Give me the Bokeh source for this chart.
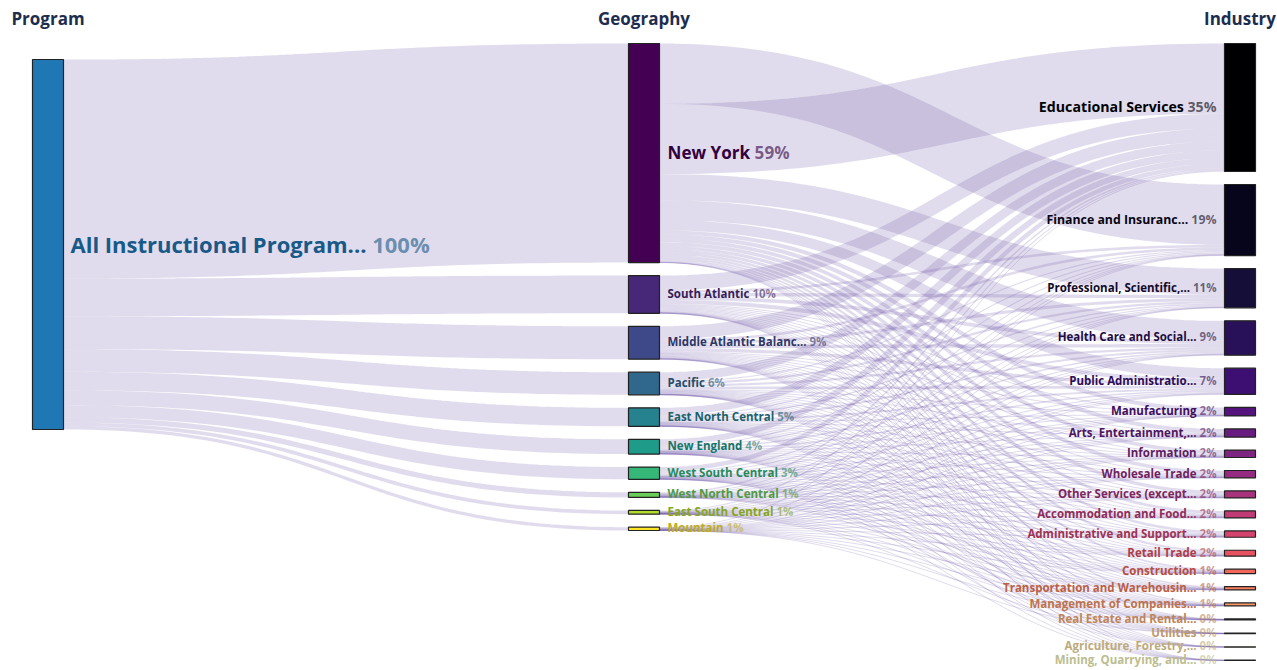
import numpy as np
from bokeh.plotting import figure
from bokeh.models import Range1d, ColumnDataSource, CustomJSTransform
from bokeh.transform import transform
from bokeh.core.properties import value
from bokeh.palettes import Viridis10, magma
from bokeh.embed import file_html
from bokeh.resources import INLINE

# ---------------- data ----------------
column_titles = ["Program", "Geography", "Industry"]
program = ["All Instructional Program..."]
geography = ["New York", "South Atlantic", "Middle Atlantic Balanc...", "Pacific",
             "East North Central", "New England", "West South Central",
             "West North Central", "East South Central", "Mountain"]
industry = ["Educational Services", "Finance and Insuranc...", "Professional, Scientific,...",
            "Health Care and Social...", "Public Administratio...", "Manufacturing",
            "Arts, Entertainment,...", "Information", "Wholesale Trade",
            "Other Services (except...", "Accommodation and Food...",
            "Administrative and Support...", "Retail Trade", "Construction",
            "Transportation and Warehousin...", "Management of Companies...",
            "Real Estate and Rental...", "Utilities", "Agriculture, Forestry,...",
            "Mining, Quarrying, and..."]

# flows geography -> industry (share of all graduates, %), one list per geography
new_york     = [19.0, 16.3, 7.1, 5.3, 2.8, 1.1, 1.1, 1.0, 1.0, 0.9, 0.8, 0.7, 0.6, 0.5, 0.4, 0.4, 0.1, 0.05, 0.03, 0.02]
south_atl    = [4.0, 0.7, 0.9, 1.0, 1.1, 0.25, 0.25, 0.25, 0.25, 0.25, 0.3, 0.25, 0.25, 0.15, 0.1, 0.1, 0.05, 0.03, 0.01, 0.01]
middle_atl   = [3.5, 0.7, 0.8, 0.9, 0.9, 0.25, 0.2, 0.2, 0.2, 0.2, 0.2, 0.2, 0.2, 0.15, 0.1, 0.08, 0.04, 0.03, 0.02, 0.03]
pacific      = [2.4, 0.3, 0.6, 0.6, 0.7, 0.2, 0.15, 0.15, 0.15, 0.15, 0.15, 0.15, 0.15, 0.1, 0.05, 0.04, 0.02, 0.02, 0.01, 0.01]
e_n_central  = [2.0, 0.3, 0.4, 0.5, 0.5, 0.2, 0.12, 0.12, 0.12, 0.12, 0.12, 0.12, 0.12, 0.1, 0.06, 0.05, 0.02, 0.01, 0.01, 0.01]
new_england  = [1.6, 0.3, 0.3, 0.4, 0.4, 0.13, 0.12, 0.08, 0.08, 0.08, 0.1, 0.08, 0.08, 0.06, 0.06, 0.05, 0.03, 0.03, 0.01, 0.01]
w_s_central  = [1.2, 0.3, 0.3, 0.3, 0.3, 0.08, 0.1, 0.08, 0.08, 0.08, 0.1, 0.08, 0.08, 0.06, 0.06, 0.04, 0.02, 0.02, 0.01, 0.01]
w_n_central  = [0.4, 0.1, 0.1, 0.1, 0.2, 0.04, 0.06, 0.05, 0.05, 0.05, 0.05, 0.05, 0.05, 0.04, 0.03, 0.02, 0.01, 0.0, 0.0, 0.0]
e_s_central  = [0.3, 0.1, 0.05, 0.1, 0.1, 0.03, 0.05, 0.03, 0.04, 0.03, 0.04, 0.04, 0.03, 0.02, 0.02, 0.01, 0.005, 0.005, 0.0, 0.0]
mountain     = [0.2, 0.1, 0.05, 0.1, 0.1, 0.02, 0.05, 0.04, 0.03, 0.04, 0.04, 0.03, 0.04, 0.02, 0.02, 0.01, 0.005, 0.005, 0.0, 0.0]

# ---------------- layout / style ----------------
W, H = 1277, 670
FONT = "Open Sans"
LINK_COLOR = "#6a51a3"
TITLE_COLOR = "#1d2d4f"
NODE_W = 31
COL_X = [32, 628, 1224]
PROG_TOP = 59
COL_TOP = 43
GAP = 13
SCALE_PX = 370.0
# order in which New York's outgoing links leave the node (industry indices)
NY_OUT_ORDER = [1, 0] + list(range(2, 20))

M = np.array([new_york, south_atl, middle_atl, pacific, e_n_central, new_england,
              w_s_central, w_n_central, e_s_central, mountain])
geo_tot = M.sum(axis=1)
ind_tot = M.sum(axis=0)
grand = geo_tot.sum()
K = SCALE_PX / grand

prog_y0 = PROG_TOP
prog_y1 = PROG_TOP + grand * K

def stack(tots, top):
    y0s, y1s = [], []
    y = top
    for t in tots:
        y0s.append(y)
        y += t * K
        y1s.append(y)
        y += GAP
    return np.array(y0s), np.array(y1s)

geo_y0, geo_y1 = stack(geo_tot, COL_TOP)
ind_y0, ind_y1 = stack(ind_tot, COL_TOP)

link_xs, link_ys, link_w = [], [], []

def add_link(x0, x1, c0, c1, w, n=60):
    # stroked cubic Bezier centre line, horizontal tangents at both ends
    t = np.linspace(0, 1, n)
    s = 3 * (1 - t) * t ** 2 + t ** 3
    xm = (x0 + x1) / 2.0
    bx = (1 - t) ** 3 * x0 + 3 * (1 - t) ** 2 * t * xm + 3 * (1 - t) * t ** 2 * xm + t ** 3 * x1
    by = c0 + (c1 - c0) * s
    link_xs.append(list(bx))
    link_ys.append(list(by))
    link_w.append(max(w, 1.0))

# program -> geography
off = prog_y0
for i, g in enumerate(geo_tot):
    h = g * K
    add_link(COL_X[0] + NODE_W, COL_X[1], off + h / 2, geo_y0[i] + h / 2, h)
    off += h

# geography -> industry: positions at the target (sources stacked in geography order)
tgt_pos = np.zeros(M.shape)
tgt_off = ind_y0.copy()
for j in range(M.shape[1]):
    for i in range(M.shape[0]):
        tgt_pos[i, j] = tgt_off[j]
        tgt_off[j] += M[i, j] * K
# positions at the source
for i in range(M.shape[0]):
    order = NY_OUT_ORDER if i == 0 else list(range(M.shape[1]))
    so = geo_y0[i]
    for j in order:
        v = M[i, j]
        if v <= 0:
            continue
        h = v * K
        add_link(COL_X[1] + NODE_W, COL_X[2], so + h / 2, tgt_pos[i, j] + h / 2, h)
        so += h

# ---------------- figure ----------------
p = figure(width=W, height=H, output_backend="svg", toolbar_location=None,
           x_range=Range1d(0, W), y_range=Range1d(H, 0),
           x_axis_type=None, y_axis_type=None, min_border=0)
p.outline_line_color = None
p.grid.visible = False
p.background_fill_color = "white"
p.border_fill_color = "white"

p.multi_line(xs="xs", ys="ys", line_width="w", line_color=LINK_COLOR, line_alpha=0.2,
             line_cap="butt", source=ColumnDataSource(dict(xs=link_xs, ys=link_ys, w=link_w)))

prog_color = ["#1f77b4"]
geo_colors = list(Viridis10)
ind_colors = list(magma(20))

left = [COL_X[0]] + [COL_X[1]] * len(geography) + [COL_X[2]] * len(industry)
tops = [prog_y0] + list(geo_y0) + list(ind_y0)
bots = [prog_y1] + list(geo_y1) + list(ind_y1)
cols = prog_color + geo_colors + ind_colors
p.quad(left=left, right=[l + NODE_W for l in left], top=tops, bottom=bots,
       fill_color=cols, line_color="#222222", line_width=1.2)

def darker(hx, f=0.75):
    hx = hx.lstrip("#")
    r, g, b = (int(hx[k:k + 2], 16) for k in (0, 2, 4))
    return "#%02x%02x%02x" % (int(r * f), int(g * f), int(b * f))

def pct_str(v):
    return "%d%%" % int(np.floor(v / grand * 100 + 0.5))

def fsize(v):
    return max(11.5, 10.0 + 12.0 * v / grand)

JS = """
const ctx = document.createElement('canvas').getContext('2d');
const out = new Array(xs.length);
for (let i = 0; i < xs.length; i++) {
  ctx.font = 'bold ' + sizes[i] + 'px ' + fam;
  out[i] = xs[i] + sign * ctx.measureText(strs[i]).width;
}
return out;
"""
FAM = '"' + FONT + '"'
DY = -1.0

# left-side aligned labels (program + geography): name then percent
l_names = program + geography
l_vals = [grand] + list(geo_tot)
l_x = [COL_X[0] + NODE_W + 7] + [COL_X[1] + NODE_W + 8] * len(geography)
l_y = [(prog_y0 + prog_y1) / 2 + DY] + list((geo_y0 + geo_y1) / 2 + DY)
l_col = [darker(c) for c in prog_color + geo_colors]
l_size = [fsize(v) for v in l_vals]
srcL = ColumnDataSource(dict(x=l_x, y=l_y, name=l_names, pct=[pct_str(v) for v in l_vals],
                             size=["%.1fpx" % s for s in l_size], col=l_col))
p.text(x="x", y="y", text="name", source=srcL, text_font=value(FONT), text_font_style="bold",
       text_font_size="size", text_color="col", text_align="left", text_baseline="middle")
trL = CustomJSTransform(args=dict(strs=[n + " " for n in l_names], sizes=l_size, sign=1, fam=FAM), v_func=JS)
p.text(x=transform("x", trL), y="y", text="pct", source=srcL, text_font=value(FONT), text_font_style="bold",
       text_font_size="size", text_color="col", text_alpha=0.6, text_align="left", text_baseline="middle")

# right-side aligned labels (industry): name then percent, right-aligned
r_vals = list(ind_tot)
r_pct = [pct_str(v) for v in r_vals]
r_size = [fsize(v) for v in r_vals]
srcR = ColumnDataSource(dict(x=[COL_X[2] - 8] * len(industry), y=list((ind_y0 + ind_y1) / 2 + DY),
                             name=industry, pct=r_pct, size=["%.1fpx" % s for s in r_size],
                             col=[darker(c) for c in ind_colors]))
p.text(x="x", y="y", text="pct", source=srcR, text_font=value(FONT), text_font_style="bold",
       text_font_size="size", text_color="col", text_alpha=0.6, text_align="right", text_baseline="middle")
trR = CustomJSTransform(args=dict(strs=[" " + s for s in r_pct], sizes=r_size, sign=-1, fam=FAM), v_func=JS)
p.text(x=transform("x", trR), y="y", text="name", source=srcR, text_font=value(FONT), text_font_style="bold",
       text_font_size="size", text_color="col", text_align="right", text_baseline="middle")

# column titles
p.text(x=[c + NODE_W / 2 for c in COL_X], y=[18] * 3, text=column_titles, text_font=value(FONT),
       text_font_style="bold", text_font_size="17px", text_color=TITLE_COLOR,
       text_align="center", text_baseline="middle")

open("out.html", "w").write(file_html(p, INLINE))
